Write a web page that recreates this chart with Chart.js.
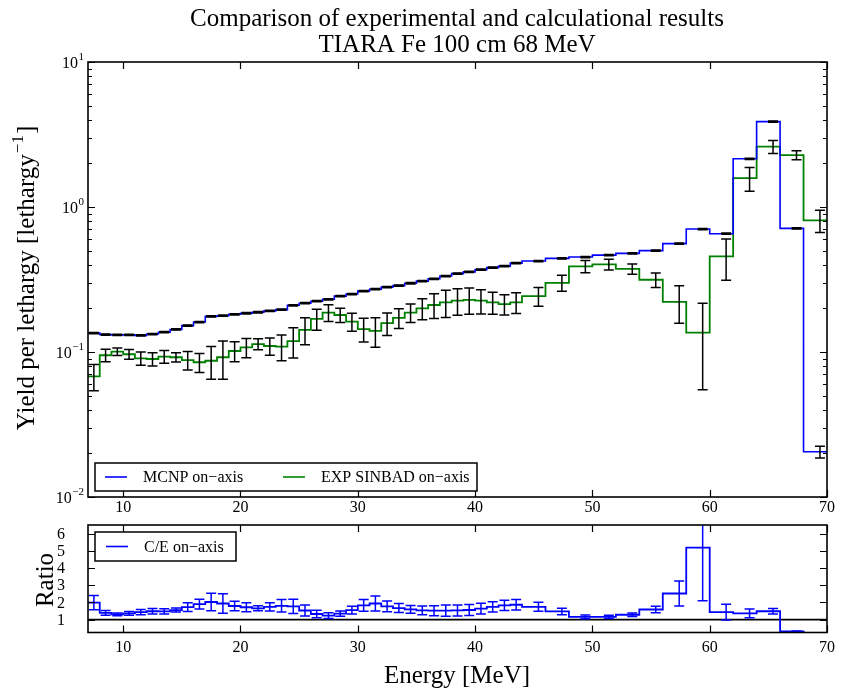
<!DOCTYPE html>
<html lang="en">
<head>
<meta charset="UTF-8">
<title>TIARA Fe 100 cm 68 MeV</title>
<script src="https://cdn.jsdelivr.net/npm/chart.js"></script>
<style>
  body {
    margin: 0;
    background: #fff;
  }

  #wrap {
    position: relative;
    width: 842px;
    height: 695px;
  }

  #yieldChart {
    position: absolute;
    left: 0;
    top: 0;
  }

  #ratioChart {
    position: absolute;
    left: 0;
    top: 512px;
  }
</style>
</head>
<body>

<div id="wrap">
  <canvas id="yieldChart" width="842" height="512"></canvas>
  <canvas id="ratioChart" width="842" height="183"></canvas>
</div>

<script>

// energy bin edges [MeV]: 1 MeV wide up to 44 MeV, 2 MeV wide above
const binEdges = [7, 8, 9, 10, 11, 12, 13, 14, 15, 16, 17, 18, 19, 20, 21, 22, 23, 24, 25, 26,
  27, 28, 29, 30, 31, 32, 33, 34, 35, 36, 37, 38, 39, 40, 41, 42, 43, 44,
  46, 48, 50, 52, 54, 56, 58, 60, 62, 64, 66, 68, 70];

// MCNP on-axis yield per lethargy
const mcnpYield = [0.135, 0.132, 0.131, 0.1315, 0.130, 0.133, 0.137, 0.143, 0.152, 0.161,
  0.176, 0.178, 0.182, 0.185, 0.188, 0.192, 0.196, 0.210, 0.217, 0.224,
  0.231, 0.243, 0.251, 0.263, 0.271, 0.280, 0.287, 0.298, 0.308, 0.320,
  0.334, 0.347, 0.357, 0.370, 0.382, 0.391, 0.410,
  0.424, 0.442, 0.452, 0.466, 0.479, 0.500, 0.559, 0.705, 0.654, 2.15, 3.88, 0.712, 0.0205];

const mcnpErr = [0.0014, 0.0013, 0.0013, 0.0013, 0.0013, 0.0013, 0.0014, 0.0014, 0.0015, 0.0016,
  0.0018, 0.0018, 0.0018, 0.0019, 0.0019, 0.0019, 0.0020, 0.0021, 0.0022, 0.0022,
  0.0023, 0.0024, 0.0025, 0.0026, 0.0027, 0.0028, 0.0029, 0.0030, 0.0031, 0.0032,
  0.0033, 0.0035, 0.0036, 0.0037, 0.0038, 0.0039, 0.0041,
  0.0042, 0.0044, 0.0045, 0.0047, 0.0048, 0.0050, 0.0056, 0.0070, 0.0065, 0.021, 0.035, 0.0070, 0.0019];

// measured (EXP SINBAD) on-axis yield per lethargy
const expYield = [0.068, 0.095, 0.1005, 0.0965, 0.0905, 0.0895, 0.093, 0.092, 0.088, 0.085,
  0.087, 0.092, 0.1016, 0.1076, 0.1135, 0.110, 0.109, 0.119, 0.142, 0.169,
  0.187, 0.180, 0.162, 0.144, 0.140, 0.158, 0.172, 0.187, 0.200, 0.211,
  0.220, 0.226, 0.229, 0.226, 0.220, 0.214, 0.220,
  0.243, 0.300, 0.390, 0.402, 0.374, 0.315, 0.222, 0.136, 0.457, 1.58, 2.61, 2.28, 0.809];

const expErr = [0.014, 0.0095, 0.006, 0.0075, 0.0095, 0.0095, 0.0095, 0.0067, 0.0128, 0.0127,
  0.022, 0.027, 0.016, 0.0165, 0.010, 0.015, 0.022, 0.028, 0.030, 0.028,
  0.025, 0.020, 0.023, 0.027, 0.032, 0.028, 0.027, 0.027, 0.033, 0.041,
  0.047, 0.047, 0.047, 0.043, 0.038, 0.034, 0.036,
  0.036, 0.038, 0.038, 0.034, 0.030, 0.036, 0.064, 0.081, 0.145, 0.295, 0.27, 0.16, 0.142];

const xTicks = [10, 20, 30, 40, 50, 60, 70];
const logDecades = [-2, -1, 0, 1];
const ratioTicks = [1, 2, 3, 4, 5, 6];

// the 2 MeV bins have their points a bit above the bin centre
const wideBinShift = 0.4;

const serif = '"Liberation Serif", "Times New Roman", serif';

const pointE = mcnpYield.map((_, i) => {
  const lo = binEdges[i], hi = binEdges[i + 1];
  return (lo + hi) / 2 + (hi - lo > 1 ? wideBinShift : 0);
});

// C/E and its error from both relative errors
const ratio = mcnpYield.map((m, i) => m / expYield[i]);
const ratioErr = ratio.map((r, i) => r * Math.hypot(expErr[i] / expYield[i], mcnpErr[i] / mcnpYield[i]));

// one point per left bin edge plus the closing right edge
function stepPoints(vals) {
  const pts = vals.map((v, i) => ({ x: binEdges[i], y: v }));
  pts.push({ x: binEdges[binEdges.length - 1], y: vals[vals.length - 1] });
  return pts;
}

function stepSet(label, vals, color, width) {
  return {
    label: label,
    data: stepPoints(vals),
    borderColor: color,
    borderWidth: width,
    stepped: 'before',   // Chart.js 'before' = hold the value until the next x
    pointRadius: 0,
    fill: false
  };
}

// vertical error bars with caps, clipped to the plot area
function errorBars(sets) {
  return {
    id: 'errorBars',
    afterDatasetsDraw(chart) {
      const { ctx, chartArea: a, scales } = chart;
      ctx.save();
      ctx.beginPath();
      ctx.rect(a.left, a.top, a.right - a.left, a.bottom - a.top);
      ctx.clip();
      sets.forEach(s => {
        ctx.strokeStyle = s.color;
        ctx.lineWidth = 1.5;
        ctx.beginPath();
        s.values.forEach((v, i) => {
          const px = scales.x.getPixelForValue(pointE[i]);
          const lo = v - s.errors[i];
          const yHi = scales.y.getPixelForValue(v + s.errors[i]);
          const yLo = lo > 0 ? scales.y.getPixelForValue(lo) : a.bottom + 10;
          ctx.moveTo(px, yHi); ctx.lineTo(px, yLo);
          ctx.moveTo(px - 5, yHi); ctx.lineTo(px + 5, yHi);
          ctx.moveTo(px - 5, yLo); ctx.lineTo(px + 5, yLo);
        });
        ctx.stroke();
      });
      ctx.restore();
    }
  };
}

function drawLegend(ctx, box, entries) {
  ctx.save();
  ctx.fillStyle = '#fff';
  ctx.fillRect(box.x, box.y, box.w, box.h);
  ctx.strokeStyle = '#000';
  ctx.lineWidth = 1.5;
  ctx.strokeRect(box.x, box.y, box.w, box.h);
  ctx.font = '16px ' + serif;
  ctx.textBaseline = 'middle';
  ctx.fillStyle = '#000';
  const cy = box.y + box.h / 2;
  entries.forEach(e => {
    ctx.strokeStyle = e.color;
    ctx.lineWidth = 1.6;
    ctx.beginPath();
    ctx.moveTo(e.x, cy);
    ctx.lineTo(e.x + 22, cy);
    ctx.stroke();
    ctx.fillText(e.text, e.x + 38, cy + 1);
  });
  ctx.restore();
}

function drawFrame(chart, yTicks, tickLabelsY) {
  const { ctx, chartArea: a, scales } = chart;
  ctx.save();
  ctx.strokeStyle = '#000';
  ctx.lineWidth = 1.2;
  ctx.beginPath();
  xTicks.forEach(v => {
    const px = Math.round(scales.x.getPixelForValue(v)) + 0.5;
    ctx.moveTo(px, a.bottom); ctx.lineTo(px, a.bottom - 7);
    ctx.moveTo(px, a.top); ctx.lineTo(px, a.top + 7);
  });
  yTicks.forEach(t => {
    const py = Math.round(scales.y.getPixelForValue(t.v)) + 0.5;
    const len = t.major ? 7 : 4;
    ctx.moveTo(a.left, py); ctx.lineTo(a.left + len, py);
    ctx.moveTo(a.right, py); ctx.lineTo(a.right - len, py);
  });
  ctx.stroke();
  ctx.lineWidth = 1.6;
  ctx.strokeRect(a.left, a.top, a.right - a.left, a.bottom - a.top);

  ctx.fillStyle = '#000';
  ctx.font = '16px ' + serif;
  ctx.textAlign = 'center';
  ctx.textBaseline = 'middle';
  xTicks.forEach(v => ctx.fillText(String(v), scales.x.getPixelForValue(v), tickLabelsY));
  ctx.restore();
}

// ---- upper panel: yield per lethargy ----
const logTicks = [];
logDecades.forEach(d => {
  const base = Math.pow(10, d);
  logTicks.push({ v: base, major: true });
  if (d < 1) for (let k = 2; k <= 9; k++) logTicks.push({ v: k * base, major: false });
});

const yieldFrame = {
  id: 'yieldFrame',
  afterDraw(chart) {
    const { ctx, scales } = chart;
    drawFrame(chart, logTicks, 508);

    ctx.save();
    ctx.fillStyle = '#000';
    ctx.textAlign = 'right';
    ctx.textBaseline = 'middle';
    logDecades.forEach(d => {
      const py = scales.y.getPixelForValue(Math.pow(10, d));
      const exp = d < 0 ? '\u2212' + (-d) : String(d);
      ctx.font = '11px ' + serif;
      const supW = ctx.measureText(exp).width;
      ctx.fillText(exp, 84, py - 5);
      ctx.font = '16px ' + serif;
      ctx.fillText('10', 84 - supW - 0.5, py + 2);
    });

    // titles
    ctx.textAlign = 'center';
    ctx.font = '25px ' + serif;
    ctx.fillText('Comparison of experimental and calculational results', 457, 19);
    ctx.fillText('TIARA Fe 100 cm 68 MeV', 457, 45);

    // y axis title with superscript
    const main = 'Yield per lethargy [lethargy';
    const sup = '\u22121';
    ctx.font = '25px ' + serif;
    const w1 = ctx.measureText(main).width;
    const w3 = ctx.measureText(']').width;
    ctx.font = '17px ' + serif;
    const w2 = ctx.measureText(sup).width;
    ctx.translate(27, 279);
    ctx.rotate(-Math.PI / 2);
    ctx.textAlign = 'left';
    let x0 = -(w1 + w2 + w3) / 2;
    ctx.font = '25px ' + serif;
    ctx.fillText(main, x0, 0);
    ctx.font = '17px ' + serif;
    ctx.fillText(sup, x0 + w1 + 1, -8);
    ctx.font = '25px ' + serif;
    ctx.fillText(']', x0 + w1 + w2 + 2, 0);
    ctx.restore();

    drawLegend(ctx, { x: 95, y: 463, w: 382, h: 28 }, [
      { color: '#0000ff', x: 105, text: 'MCNP on\u2212axis' },
      { color: '#008000', x: 283, text: 'EXP SINBAD on\u2212axis' }
    ]);
  }
};

new Chart(document.getElementById('yieldChart'), {
  type: 'line',
  data: {
    datasets: [
      stepSet('MCNP on\u2212axis', mcnpYield, '#0000ff', 1.6),
      stepSet('EXP SINBAD on\u2212axis', expYield, '#008000', 1.8)
    ]
  },
  options: {
    responsive: false,
    animation: false,
    devicePixelRatio: 1,
    events: [],
    layout: { padding: { left: 88, right: 15, top: 62, bottom: 15 } },
    scales: {
      x: { type: 'linear', min: 7, max: 70, display: false },
      y: { type: 'logarithmic', min: 0.01, max: 10, display: false }
    },
    plugins: {
      legend: { display: false },
      tooltip: { enabled: false }
    }
  },
  plugins: [
    errorBars([
      { values: mcnpYield, errors: mcnpErr, color: '#000' },
      { values: expYield, errors: expErr, color: '#000' }
    ]),
    yieldFrame
  ]
});

// ---- lower panel: C/E ratio ----
const ratioFrame = {
  id: 'ratioFrame',
  beforeDatasetsDraw(chart) {
    const { ctx, chartArea: a, scales } = chart;
    const py = scales.y.getPixelForValue(1);
    ctx.save();
    ctx.strokeStyle = '#000';
    ctx.lineWidth = 1.6;
    ctx.beginPath();
    ctx.moveTo(a.left, py);
    ctx.lineTo(a.right, py);
    ctx.stroke();
    ctx.restore();
  },
  afterDraw(chart) {
    const { ctx, scales } = chart;
    drawFrame(chart, ratioTicks.map(v => ({ v: v, major: true })), 136);

    ctx.save();
    ctx.fillStyle = '#000';
    ctx.font = '16px ' + serif;
    ctx.textAlign = 'right';
    ctx.textBaseline = 'middle';
    ratioTicks.forEach(v => ctx.fillText(String(v), 65, scales.y.getPixelForValue(v) + 1));

    ctx.textAlign = 'center';
    ctx.font = '25px ' + serif;
    ctx.fillText('Energy [MeV]', 457, 164);

    ctx.translate(46, 68);
    ctx.rotate(-Math.PI / 2);
    ctx.fillText('Ratio', 0, 0);
    ctx.restore();

    drawLegend(ctx, { x: 95, y: 20, w: 141, h: 29 }, [
      { color: '#0000ff', x: 106, text: 'C/E on\u2212axis' }
    ]);
  }
};

new Chart(document.getElementById('ratioChart'), {
  type: 'line',
  data: {
    datasets: [stepSet('C/E on\u2212axis', ratio, '#0000ff', 1.8)]
  },
  options: {
    responsive: false,
    animation: false,
    devicePixelRatio: 1,
    events: [],
    layout: { padding: { left: 88, right: 15, top: 13, bottom: 62.5 } },
    scales: {
      x: { type: 'linear', min: 7, max: 70, display: false },
      y: { type: 'linear', min: 0.25, max: 6.5, display: false }
    },
    plugins: {
      legend: { display: false },
      tooltip: { enabled: false }
    }
  },
  plugins: [
    errorBars([{ values: ratio, errors: ratioErr, color: '#0000ff' }]),
    ratioFrame
  ]
});

</script>

</body>
</html>
